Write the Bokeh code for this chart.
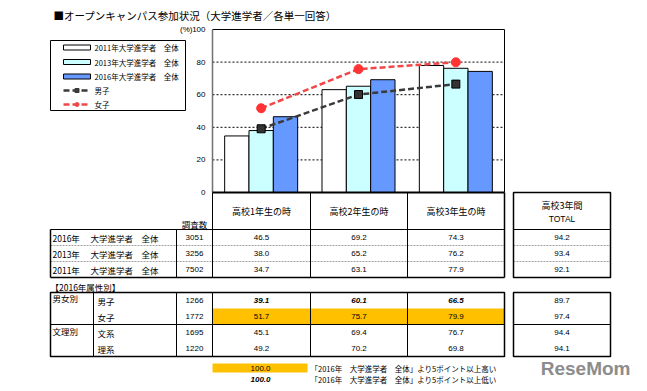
from bokeh.plotting import figure
from bokeh.models import Range1d, ColumnDataSource
from bokeh.transform import dodge
from bokeh.core.properties import value
from bokeh.embed import file_html
from bokeh.resources import INLINE

# ---------------- data ----------------
title = "■オープンキャンパス参加状況（大学進学者／各単一回答）"
categories = ["高校1年生の時", "高校2年生の時", "高校3年生の時"]
series_names = ["2011年大学進学者　全体", "2013年大学進学者　全体", "2016年大学進学者　全体"]
line_names = ["男子", "女子"]
v2011 = [34.7, 63.1, 77.9]
v2013 = [38.0, 65.2, 76.2]
v2016 = [46.5, 69.2, 74.3]
male = [39.1, 60.1, 66.5]
female = [51.7, 75.7, 79.9]
y_ticks = [0, 20, 40, 60, 80, 100]
y_unit = "(%)"

total_header = ["高校3年間", "TOTAL"]
n_header = "調査数"
t1_years = ["2016年", "2013年", "2011年"]
t1_label = "大学進学者　全体"
t1_n = [3051, 3256, 7502]
t1_total = [94.2, 93.4, 92.1]

t2_title = "【2016年属性別】"
t2_groups = ["男女別", "文理別"]
t2_labels = ["男子", "女子", "文系", "理系"]
t2_n = [1266, 1772, 1695, 1220]
t2_vals = [[39.1, 60.1, 66.5], [51.7, 75.7, 79.9], [45.1, 69.4, 76.7], [49.2, 70.2, 69.8]]
t2_total = [89.7, 97.4, 94.4, 94.1]
note_hi = "「2016年　大学進学者　全体」より5ポイント以上高い"
note_lo = "「2016年　大学進学者　全体」より5ポイント以上低い"
note_sample = "100.0"
logo = "ReseMom"

# ---------------- layout constants ----------------
W, H = 640, 386
OX, OY = 0, 0
PL, PR, PT, PB = 212, 504, 29, 192

JP = value("Noto Sans CJK JP")
AR = value("Liberation Sans")
ORANGE = "#FFC000"

kx = (PR - PL) / len(categories)
ky = (PB - PT) / 100.0
cat_range = Range1d((OX - PL) / kx, (OX + W - PL) / kx)
v_start = -(OY + H - PB) / ky
val_range = Range1d(v_start, v_start + H / ky)

p = figure(width=W, height=H, x_range=Range1d(OX, OX + W), y_range=Range1d(OY + H, OY),
           output_backend="svg", toolbar_location=None, x_axis_type=None, y_axis_type=None,
           min_border=0, outline_line_color=None, background_fill_color="white")
p.extra_x_ranges = {"cat": cat_range}
p.extra_y_ranges = {"val": val_range}


def txt(x, y, s, size="8.5px", align="left", font=JP, style="normal", color="black", baseline="middle"):
    p.text(x=[x], y=[y], text=[s], text_font=font, text_font_size=size, text_align=align,
           text_baseline=baseline, text_font_style=style, text_color=color)


def hl(x0, x1, y, w=1, color="black", dash="solid"):
    p.segment(x0=[x0], x1=[x1], y0=[y], y1=[y], line_color=color, line_width=w, line_dash=dash)


def vl(x, y0, y1, w=1, color="black"):
    p.segment(x0=[x], x1=[x], y0=[y0], y1=[y1], line_color=color, line_width=w)


# ---------------- title ----------------
txt(53, 15, title, size="10.5px")

# ---------------- chart ----------------
for t in y_ticks[1:-1]:
    p.segment(x0=[PL], x1=[PR], y0=[t], y1=[t], y_range_name="val",
              line_color="black", line_width=1, line_dash="2 2")

centers = [i + 0.5 for i in range(len(categories))]
src = ColumnDataSource(dict(x=centers, a=v2011, b=v2013, c=v2016, m=male, f=female))
bar_fills = ["white", "#CCFFFF", "#6699FF"]
for j, (col, fc) in enumerate(zip(["a", "b", "c"], bar_fills)):
    p.vbar(x=dodge("x", (j - 1) * 0.25), top=col, bottom=0, width=0.25, source=src,
           x_range_name="cat", y_range_name="val", fill_color=fc, line_color="black", line_width=1)

p.line(x="x", y="m", source=src, x_range_name="cat", y_range_name="val",
       line_color="#3a3a3a", line_width=2.5, line_dash="6 3")
p.line(x="x", y="f", source=src, x_range_name="cat", y_range_name="val",
       line_color="#F04848", line_width=2.5, line_dash="6 3")
p.scatter(x="x", y="m", source=src, x_range_name="cat", y_range_name="val", marker="square",
          size=8, fill_color="#333333", line_color="black")
p.scatter(x="x", y="f", source=src, x_range_name="cat", y_range_name="val", marker="circle",
          size=9, fill_color="#FF3333", line_color="#FF3333")

# frame
hl(PL, PR, PT)
vl(PR, PT, PB)
vl(PL, PT, PB, w=1.5, color="#707070")
hl(PL, PR, PB, w=2)

for t in y_ticks:
    p.text(x=[PL - 7], y=[t], text=[str(t)], y_range_name="val", text_font=AR, text_font_size="8px",
           text_align="right", text_baseline="middle")
p.text(x=[192], y=[100], text=[y_unit], y_range_name="val", text_font=AR, text_font_size="8px",
       text_align="right", text_baseline="middle")

# ---------------- legend ----------------
p.quad(left=[50], right=[185], top=[40], bottom=[110], fill_color="white", line_color="black", line_width=1)
leg_y = [47, 61.5, 76, 90, 104]
for j, fc in enumerate(bar_fills):
    p.quad(left=[63], right=[90], top=[leg_y[j] - 2.5], bottom=[leg_y[j] + 2.5], fill_color=fc, line_color="black")
    txt(94, leg_y[j], series_names[j], size="7.5px")
for k, (nm, lc, mk) in enumerate(zip(line_names, ["#3a3a3a", "#F04848"], ["square", "circle"])):
    y = leg_y[3 + k]
    hl(63, 90, y, w=2.5, color=lc, dash="6 3")
    p.scatter(x=[76.5], y=[y], marker=mk, size=4, fill_color=lc, line_color=lc)
    txt(94, y, nm, size="7.5px")

# ---------------- table 1 ----------------
cols = [50, 176, 212, 310, 407, 504]
TL, TR = 513, 610
hdr_top, hdr_bot = 192, 229
rows1 = [229, 245, 261, 277]
for i, c in enumerate(categories):
    txt((cols[2 + i] + cols[3 + i]) / 2, 211, c, size="9px", align="center")
txt((TL + TR) / 2, 205, total_header[0], size="9px", align="center")
txt((TL + TR) / 2, 218, total_header[1], size="8.5px", align="center", font=AR)
txt(194, 223, n_header, size="8.5px", align="center")

t1_vals = [v2016, v2013, v2011]
for r in range(3):
    yc = (rows1[r] + rows1[r + 1]) / 2
    txt(52, yc, t1_years[r])
    txt(90, yc, t1_label)
    txt(194, yc, str(t1_n[r]), size="8px", align="center", font=AR)
    for i in range(3):
        txt((cols[2 + i] + cols[3 + i]) / 2, yc, f"{t1_vals[r][i]:.1f}", size="8px", align="center", font=AR)
    txt((TL + TR) / 2, yc, f"{t1_total[r]:.1f}", size="8px", align="center", font=AR)

for y in rows1[1:3]:
    hl(50, 504, y, w=0.8, color="#888888", dash="2 1")
    hl(TL, TR, y, w=0.8, color="#888888", dash="2 1")
hl(50, 504, hdr_bot)
hl(50, 504, rows1[-1], w=1.5)
vl(50, hdr_bot, rows1[-1], w=1.5)
vl(176, hdr_bot, rows1[-1])
for c in cols[2:5]:
    vl(c, hdr_top, rows1[-1])
vl(504, hdr_top, rows1[-1], w=1.5)
p.quad(left=[TL], right=[TR], top=[hdr_top], bottom=[rows1[-1]], fill_color=None, line_color="black", line_width=1.5)
hl(TL, TR, hdr_bot)

# ---------------- table 2 ----------------
txt(50, 286, t2_title, size="8.5px")
rows2 = [292, 308, 324, 340, 356]
cols2 = [50, 93, 176, 212, 310, 407, 504]
base = v2016
for r in range(4):
    for i in range(3):
        if t2_vals[r][i] - base[i] >= 5:
            p.quad(left=[cols2[3 + i]], right=[cols2[4 + i]], top=[rows2[r]], bottom=[rows2[r + 1]],
                   fill_color=ORANGE, line_color=None)

txt(52, 297, t2_groups[0])
txt(52, 330, t2_groups[1])
for r in range(4):
    yc = (rows2[r] + rows2[r + 1]) / 2
    txt(97, yc, t2_labels[r])
    txt(194, yc, str(t2_n[r]), size="8px", align="center", font=AR)
    for i in range(3):
        low = t2_vals[r][i] - base[i] <= -5
        txt((cols2[3 + i] + cols2[4 + i]) / 2, yc, f"{t2_vals[r][i]:.1f}", size="8px", align="center",
            font=AR, style="bold italic" if low else "normal")
    txt((TL + TR) / 2, yc, f"{t2_total[r]:.1f}", size="8px", align="center", font=AR)

p.quad(left=[50], right=[504], top=[292], bottom=[356], fill_color=None, line_color="black", line_width=1.5)
for c in cols2[1:6]:
    vl(c, 292, 356)
hl(50, 504, 324)
p.quad(left=[TL], right=[TR], top=[292], bottom=[356], fill_color=None, line_color="black", line_width=1.5)
hl(TL, TR, 324)

# ---------------- notes ----------------
p.quad(left=[212], right=[307], top=[363], bottom=[372], fill_color=ORANGE, line_color=None)
txt(260, 367.5, note_sample, size="8px", align="center", font=AR)
txt(260, 378.5, note_sample, size="8px", align="center", font=AR, style="bold italic")
txt(310, 367.5, note_hi, size="7.5px")
txt(310, 378.5, note_lo, size="7.5px")

# logo
txt(630, 368, logo, size="19px", align="right", font=AR, style="bold", color="#8C8C8C")

open("out.html", "w").write(file_html(p, INLINE))
